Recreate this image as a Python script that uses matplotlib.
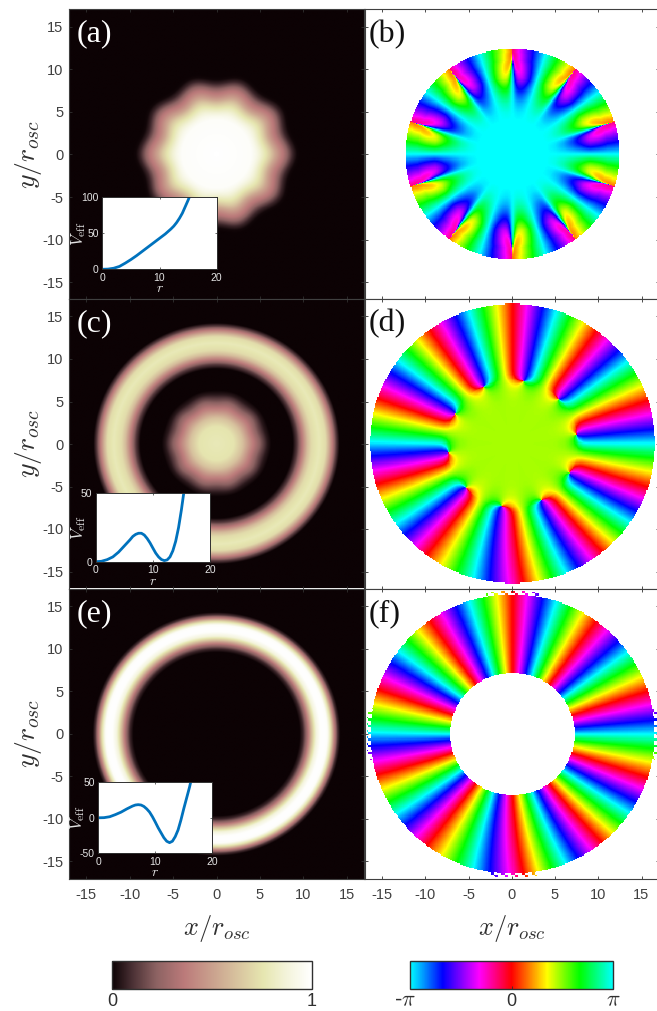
import numpy as np
import matplotlib
matplotlib.use("Agg")
import matplotlib.pyplot as plt
from matplotlib.colors import LinearSegmentedColormap, Normalize
from matplotlib.cm import ScalarMappable
from matplotlib.transforms import ScaledTranslation

W, H = 657, 1011
plt.rcParams['font.family'] = ['Liberation Sans', 'DejaVu Sans']
plt.rcParams['mathtext.fontset'] = 'cm'
plt.rcParams['axes.unicode_minus'] = False

# ---- radial density profiles
r_a = [0, 4, 4.5, 5, 5.5, 6, 6.5, 7, 7.5, 8, 8.5, 9, 9.4, 20]
n_a = [1.0, 0.98, 0.93, 0.85, 0.76, 0.65, 0.52, 0.42, 0.33, 0.2, 0.08, 0.01, 0, 0]
r_c = [0, 2, 3, 4, 5, 5.8, 6.3, 8.8, 9.3, 9.9, 10.5, 11, 11.85, 12.6, 13, 13.4, 13.8, 14.2, 20]
n_c = [0.78, 0.75, 0.62, 0.4, 0.2, 0.05, 0, 0, 0.12, 0.36, 0.6, 0.72, 0.78, 0.72, 0.55, 0.36, 0.14, 0, 0]
r_e = [0, 9.6, 10, 10.5, 11, 11.5, 12, 12.4, 12.8, 13.2, 13.6, 14, 14.3, 20]
n_e = [0, 0, 0.08, 0.3, 0.6, 0.88, 0.99, 1.0, 0.98, 0.75, 0.4, 0.1, 0, 0]

# ---- phase panels: ray sharpness and peak phase swing versus radius
r_b = [0, 3, 6, 8, 9, 10, 11, 12, 12.5]
ratio_b = [0.001, 0.05, 0.3, 0.45, 0.55, 0.8, 0.97, 0.999, 0.9999]
r_swing = [0, 4, 5, 6, 7, 8, 9, 10, 12.5]
swing_b = [0, 0, 0.03, 0.1, 0.22, 0.38, 0.6, 0.72, 0.85]
r_d = [0, 4, 5, 6, 6.5, 7, 7.5, 8, 8.5, 9, 10, 17]
ratio_d = [0, 0.005, 0.02, 0.1, 0.22, 0.45, 1.0, 3.5, 12, 25, 40, 100]

winding = 10
lobes = 10
phase_b_centre = np.pi
phase_d_centre = 0.46 * np.pi
phase_f_outer = np.pi
rim_b, rim_d, rim_f = 12.4, 16.5, 16.55
hole_f = 7.2
# angular shear of the outer rays at the rim, degrees
twist_angle = [-162, -126, -90, -54, -18, 18, 90, 198]
twist_deg = [-1, -1, 4.5, 3.5, 0, 0, 0, -1]

# ---- inset curves
r_ia = [0, 1, 2, 3, 4, 5, 6, 7, 8, 9, 10, 11, 12, 12.5, 13, 13.5, 14, 14.5, 15, 15.2]
v_ia = [0, 0.3, 1.5, 4, 8.5, 13.5, 19, 25, 31, 37, 43, 49, 56, 60, 65, 71, 78, 87, 96, 100]
r_ic = [0, 1, 2, 3, 4, 5, 6, 6.5, 7, 7.5, 8, 8.5, 9, 9.5, 10, 10.5, 11, 11.5, 12, 12.5, 13, 13.5, 14, 14.5, 15, 15.4]
v_ic = [0, 0.3, 1.5, 3.5, 7, 11.5, 16, 18.5, 20, 20.8, 20.8, 19.5, 17, 13.8, 10, 6.3, 3.5, 1.6, 0.8, 1.3, 3.5, 8, 15, 25, 38, 50]
r_ie = [0, 1, 2, 3, 4, 5, 6, 6.5, 7, 7.5, 8, 8.5, 9, 9.5, 10, 10.5, 11, 11.5, 12, 12.5, 13, 13.5, 14, 14.5, 15, 15.5, 16, 16.2]
v_ie = [0, 0.2, 1.5, 4.5, 8, 12.5, 16.5, 18, 18.5, 18, 16, 12.5, 8, 1.5, -6, -14, -21, -28, -33, -35, -33, -26.5, -17, -3, 13, 28, 43, 50]

ticks = [-15, -10, -5, 0, 5, 10, 15]
panel_labels = ['(a)', '(b)', '(c)', '(d)', '(e)', '(f)']

density_colors = [(0, '#0c0204'), (0.1, '#4a3034'), (0.22, '#8c6262'), (0.36, '#bb7a7a'),
                  (0.55, '#cfae94'), (0.757, '#e6e6b0'), (0.88, '#f4f4dc'), (1, '#ffffff')]
phase_colors = [(0, '#00ffff'), (0.16, '#0000ff'), (0.34, '#ff00ff'), (0.5, '#ff0000'),
                (0.675, '#ffff00'), (0.835, '#00ff00'), (1, '#00ffff')]
dens_cmap = LinearSegmentedColormap.from_list('dens', density_colors, N=512)
phase_cmap = LinearSegmentedColormap.from_list('phase', phase_colors, N=512)

fig = plt.figure(figsize=(W / 100, H / 100), dpi=100)


def px_axes(x0, x1, y0, y1, **kw):
    return fig.add_axes([x0 / W, 1 - y1 / H, (x1 - x0) / W, (y1 - y0) / H], **kw)


def style(ax, left, bottom):
    ax.set_xlim(-17, 17)
    ax.set_ylim(-17, 17)
    ax.set_xticks(ticks)
    ax.set_yticks(ticks)
    ax.tick_params(direction='in', top=True, right=True, length=2.5, width=0.6,
                   color='#303030', labelsize=10.5, labelcolor='#404040',
                   labelleft=left, labelbottom=bottom, pad=4)
    ax.tick_params(axis='x', pad=7)
    for s in ax.spines.values():
        s.set_linewidth(0.8)
        s.set_color('#404040')


def grid(n):
    a = np.linspace(-17, 17, n)
    x, y = np.meshgrid(a, a)
    return x, y, np.hypot(x, y), np.arctan2(y, x)


def density(rt, nt, delta, gate_r, gate_v):
    x, y, r, th = grid(500)
    rr = r - delta * np.interp(r, gate_r, gate_v) * np.cos(lobes * th)
    return np.interp(rr, rt, nt)


def show_density(ax, z):
    ax.imshow(z, origin='lower', extent=[-17, 17, -17, 17], cmap=dens_cmap, vmin=0, vmax=1,
              aspect='auto', interpolation='bilinear')


def show_phase(ax, z):
    ax.imshow(z, origin='lower', extent=[-17, 17, -17, 17], cmap=phase_cmap, vmin=-np.pi,
              vmax=np.pi, aspect='auto', interpolation='nearest')


def phase_fields():
    x, y, r, th = grid(260)
    al = winding * th
    deg = np.degrees(th)
    tw = np.interp(deg, twist_angle, twist_deg, period=360) * np.clip((r - 7) / 9.5, 0, 1)
    al2 = winding * np.radians(deg - tw)
    # (b)
    rho = np.interp(r, r_b, ratio_b)
    shape = np.arctan2(rho * np.sin(al), 1 + rho * np.cos(al)) / np.arcsin(rho)
    dev = np.pi * np.interp(r, r_swing, swing_b) * shape
    pb = np.angle(np.exp(1j * (phase_b_centre - 1e-3 + dev)))
    pb[r > rim_b] = np.nan
    # (d)
    rho = np.interp(r, r_d, ratio_d)
    pd = np.angle(np.exp(1j * phase_d_centre) + rho * np.exp(1j * (al2 + phase_f_outer)))
    pd[r > rim_d] = np.nan
    # (f)
    pf = np.angle(np.exp(1j * (al2 + phase_f_outer)))
    i, j = np.indices(r.shape)
    rough = ((i // 2 + j // 3) % 3 == 0) & (r < rim_f + 0.3) & (r > rim_f - 0.1) & (
        (np.abs(x) < 3.0) | (np.abs(y) < 3.0))
    pf[(r > rim_f + 0.3) | ((r > rim_f - 0.1) & ~rough) | (r < hole_f)] = np.nan
    return pb, pd, pf


pb, pd, pf = phase_fields()

rows = [(9.5, 299.5), (299.5, 588.5), (589, 878.5)]
xl = (69, 364)
xr = (364.7, 658.8)
dens = [density(r_a, n_a, 0.28, [0, 4, 7], [0, 0, 1]),
        density(r_c, n_c, 0.1, [0, 3, 5, 7], [0, 0, 1, 0]),
        density(r_e, n_e, 0, [0, 20], [0, 0])]
phases = [pb, pd, pf]

for k, (y0, y1) in enumerate(rows):
    bottom = k == 2
    a = px_axes(*xl, y0, y1)
    show_density(a, dens[k])
    style(a, True, bottom)
    a.set_ylabel(r'$y/r_{osc}$', fontsize=20, color='#303030', labelpad=-1)
    a.text(0.025, 0.915, panel_labels[2 * k], transform=a.transAxes, color='white',
           family=['Liberation Serif'], fontsize=23, va='center')
    b = px_axes(*xr, y0, y1)
    show_phase(b, phases[k])
    style(b, False, bottom)
    b.text(0.015, 0.915, panel_labels[2 * k + 1], transform=b.transAxes, color='#111111',
           family=['Liberation Serif'], fontsize=23, va='center')
    if bottom:
        a.set_xlabel(r'$x/r_{osc}$', fontsize=19, color='#303030', labelpad=8)
        b.set_xlabel(r'$x/r_{osc}$', fontsize=19, color='#303030', labelpad=8)

insets = [((102.3, 216.7, 197.3, 269.3), r_ia, v_ia, (0, 100), [0, 50, 100]),
          ((95.7, 210, 493.3, 561.7), r_ic, v_ic, (0, 50), [0, 50]),
          ((98.3, 212.3, 782.3, 853.3), r_ie, v_ie, (-50, 50), [-50, 0, 50])]
for (x0, x1, y0, y1), rv, vv, yl, yt in insets:
    i = px_axes(x0, x1, y0, y1)
    i.plot(rv, vv, color='#0072BD', lw=2)
    i.set_xlim(0, 20)
    i.set_ylim(*yl)
    i.set_xticks([0, 10, 20])
    i.set_yticks(yt)
    i.tick_params(direction='in', length=1.5, width=0.5, top=True, right=True, color='#303030',
                  labelsize=7.5, labelcolor='#e4e4e4', pad=2.5)
    for s in i.spines.values():
        s.set_linewidth(0.7)
        s.set_color('#303030')
    i.set_xlabel(r'$r$', color='#e4e4e4', fontsize=10, labelpad=-1)
    i.set_ylabel(r'$V_{\mathrm{eff}}$', color='#e4e4e4', fontsize=12, labelpad=-5)

c1 = px_axes(112.3, 311.7, 961, 989)
cb = fig.colorbar(ScalarMappable(Normalize(0, 1), dens_cmap), cax=c1, orientation='horizontal')
cb.set_ticks([0, 1])
cb.set_ticklabels(['0', '1'])
c2 = px_axes(410, 613.3, 961, 989)
cb2 = fig.colorbar(ScalarMappable(Normalize(-np.pi, np.pi), phase_cmap), cax=c2, orientation='horizontal')
cb2.set_ticks([-np.pi, 0, np.pi])
cb2.set_ticklabels([r'-$\pi$', '0', r'$\pi$'])
for c in (cb, cb2):
    c.ax.tick_params(length=2, width=0.6, direction='in', labelsize=13, labelcolor='#303030',
                     color='#303030', pad=3)
    c.outline.set_linewidth(1)
    c.outline.set_edgecolor('#303030')
labs = cb2.ax.get_xticklabels()
labs[0].set_fontsize(16)
labs[2].set_fontsize(16)
labs[0].set_transform(labs[0].get_transform() + ScaledTranslation(-5 / 100, 3 / 100, fig.dpi_scale_trans))
labs[2].set_transform(labs[2].get_transform() + ScaledTranslation(0, 3 / 100, fig.dpi_scale_trans))

fig.savefig('out.png', dpi=100)
